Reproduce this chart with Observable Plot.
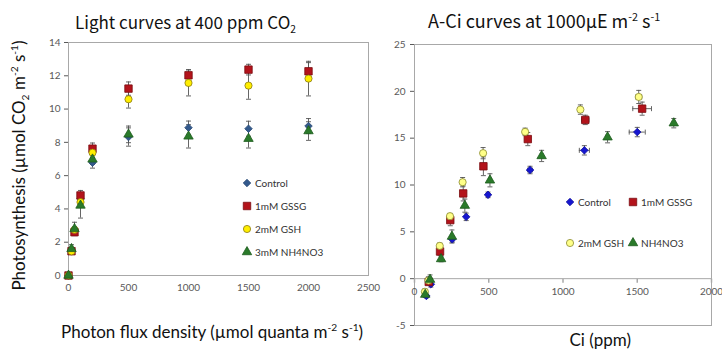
<!DOCTYPE html>
<html><head><meta charset="utf-8">
<script src="https://cdn.jsdelivr.net/npm/d3@7"></script>
<script src="https://cdn.jsdelivr.net/npm/@observablehq/plot@0.6"></script>
<style>
body{margin:0;background:#fff;}
#wrap{position:relative;width:722px;height:350px;overflow:hidden;font-family:Lato,sans-serif;background:#fff;}
.abs{position:absolute;}
.title{font-family:"Noto Sans CJK JP","Noto Sans",sans-serif;color:#111;white-space:nowrap;line-height:1;}
.axl{font-family:Lato,sans-serif;font-size:17px;color:#111;white-space:nowrap;line-height:1;}
.leg{font-family:Lato,sans-serif;font-size:10px;color:#333;display:flex;align-items:center;white-space:nowrap;line-height:1;}
.leg svg{margin-right:3px;overflow:visible;}
sub,sup{font-size:0.6em;line-height:0;}
</style></head><body><div id="wrap"></div>
<script>
// ---------- Light curves (left) ----------
const lightPFD = [0, 25, 50, 100, 200, 500, 1000, 1500, 2000];
const lightControl = [0, 1.5, 2.7, 4.6, 6.78, 8.32, 8.88, 8.82, 8.98];
const lightControlErr = [0, 0.1, 0.15, 0.2, 0.33, 0.55, 0.4, 0.45, 0.45];
const lightGSSG = [0, 1.46, 2.6, 4.81, 7.62, 11.23, 12.03, 12.37, 12.27];
const lightGSSGErr = [0, 0.1, 0.2, 0.3, 0.34, 0.4, 0.34, 0.32, 0.52];
const lightGSH = [0, 1.45, 2.75, 4.41, 7.38, 10.59, 11.57, 11.41, 11.83];
const lightGSHErr = [0, 0.1, 0.15, 0.3, 0.3, 0.53, 0.78, 0.82, 1.04];
const lightNH4 = [0, 1.6, 2.8, 4.21, 6.98, 8.48, 8.36, 8.22, 8.68];
const lightNH4Err = [0, 0.25, 0.4, 0.76, 0.3, 0.5, 0.7, 0.56, 0.56];
const lightXTicks = [0, 500, 1000, 1500, 2000, 2500];
const lightYTicks = [0, 2, 4, 6, 8, 10, 12, 14];

// ---------- A-Ci curves (right) ----------
const ciControl = [80, 110, 254, 348, 495, 778, 1144, 1500];
const aControl = [-1.85, -0.6, 4.2, 6.6, 8.95, 11.6, 13.7, 15.65];
const ciControlErr = [5, 5, 8, 8, 10, 15, 34, 54];
const aControlErr = [0.2, 0.3, 0.3, 0.4, 0.3, 0.4, 0.5, 0.5];
const ciGSSG = [96, 172, 241, 328, 464, 763, 1150, 1533];
const aGSSG = [-0.35, 2.9, 6.25, 9.1, 12.0, 14.9, 16.95, 18.15];
const ciGSSGErr = [5, 5, 8, 8, 10, 15, 25, 63];
const aGSSGErr = [0.3, 0.4, 0.6, 0.8, 1.0, 0.7, 0.5, 0.7];
const ciGSH = [70, 94, 170, 239, 324, 462, 745, 1117, 1510];
const aGSH = [-1.4, -0.2, 3.5, 6.67, 10.3, 13.4, 15.67, 18.05, 19.4];
const ciGSHErr = [4, 5, 5, 6, 6, 8, 10, 12, 20];
const aGSHErr = [0.3, 0.4, 0.3, 0.3, 0.5, 0.6, 0.4, 0.5, 0.7];
const ciNH4 = [72, 105, 179, 252, 339, 508, 856, 1300, 1746];
const aNH4 = [-1.7, -0.1, 2.1, 4.5, 7.8, 10.5, 13.1, 15.1, 16.6];
const ciNH4Err = [4, 5, 6, 6, 8, 8, 10, 12, 10];
const aNH4Err = [0.3, 0.5, 0.3, 0.7, 0.7, 0.7, 0.6, 0.6, 0.5];
const ciXTicks = [0, 500, 1000, 1500, 2000];
const ciYTicks = [-5, 0, 5, 10, 15, 20, 25];

const seriesNames = ["Control", "1mM GSSG", "2mM GSH", "3mM NH4NO3"];
const seriesNamesCi = ["Control", "1mM GSSG", "2mM GSH", "NH4NO3"];

// styles
const leftStyle = [
  {symbol: "diamond2", fill: "#33598c", stroke: "#2a4a75", r: 3.4},
  {symbol: "square", fill: "#b3131b", stroke: "#7a0c10", r: 4.2},
  {symbol: "circle", fill: "#ffee00", stroke: "#8a7a10", r: 3.6},
  {symbol: "triangle", fill: "#2a7a2a", stroke: "#1d5c1d", r: 3.5}
];
const rightStyle = [
  {symbol: "diamond2", fill: "#1515d0", stroke: "#10109a", r: 3.4},
  {symbol: "square", fill: "#b3131b", stroke: "#7a0c10", r: 4.2},
  {symbol: "circle", fill: "#ffff88", stroke: "#8a8a30", r: 3.6},
  {symbol: "triangle", fill: "#2a7a2a", stroke: "#1d5c1d", r: 3.5}
];

const lightSeries = [
  lightPFD.map((x, i) => ({x, y: lightControl[i], e: lightControlErr[i]})),
  lightPFD.map((x, i) => ({x, y: lightGSSG[i], e: lightGSSGErr[i]})),
  lightPFD.map((x, i) => ({x, y: lightGSH[i], e: lightGSHErr[i]})),
  lightPFD.map((x, i) => ({x, y: lightNH4[i], e: lightNH4Err[i]}))
];
const ciSeries = [
  ciControl.map((x, i) => ({x, y: aControl[i], ex: ciControlErr[i], ey: aControlErr[i]})),
  ciGSSG.map((x, i) => ({x, y: aGSSG[i], ex: ciGSSGErr[i], ey: aGSSGErr[i]})),
  ciGSH.map((x, i) => ({x, y: aGSH[i], ex: ciGSHErr[i], ey: aGSHErr[i]})),
  ciNH4.map((x, i) => ({x, y: aNH4[i], ex: ciNH4Err[i], ey: aNH4Err[i]}))
];

const capH = {draw(ctx) { ctx.moveTo(-2.5, 0); ctx.lineTo(2.5, 0); }};
const capV = {draw(ctx) { ctx.moveTo(0, -2.5); ctx.lineTo(0, 2.5); }};
const tickDown = {draw(ctx) { ctx.moveTo(0, 0); ctx.lineTo(0, 4); }};
const errColor = "#555";

function errMarksY(data) {
  const d2 = data.filter(d => d.e > 0);
  return [
    Plot.ruleX(d2, {x: "x", y1: d => d.y - d.e, y2: d => d.y + d.e, stroke: errColor, strokeWidth: 0.9}),
    Plot.dot(d2, {x: "x", y: d => d.y - d.e, symbol: capH, stroke: errColor, fill: "none", strokeWidth: 0.9}),
    Plot.dot(d2, {x: "x", y: d => d.y + d.e, symbol: capH, stroke: errColor, fill: "none", strokeWidth: 0.9})
  ];
}
function errMarksXY(data) {
  return [
    Plot.ruleX(data, {x: "x", y1: d => d.y - d.ey, y2: d => d.y + d.ey, stroke: errColor, strokeWidth: 0.9}),
    Plot.dot(data, {x: "x", y: d => d.y - d.ey, symbol: capH, stroke: errColor, fill: "none", strokeWidth: 0.9}),
    Plot.dot(data, {x: "x", y: d => d.y + d.ey, symbol: capH, stroke: errColor, fill: "none", strokeWidth: 0.9}),
    Plot.ruleY(data, {y: "y", x1: d => d.x - d.ex, x2: d => d.x + d.ex, stroke: errColor, strokeWidth: 0.9}),
    Plot.dot(data, {y: "y", x: d => d.x - d.ex, symbol: capV, stroke: errColor, fill: "none", strokeWidth: 0.9}),
    Plot.dot(data, {y: "y", x: d => d.x + d.ex, symbol: capV, stroke: errColor, fill: "none", strokeWidth: 0.9})
  ];
}

const left = Plot.plot({
  width: 382, height: 300,
  marginLeft: 68, marginRight: 14, marginTop: 42, marginBottom: 25,
  style: {fontFamily: "Lato, sans-serif", fontSize: "10px", color: "#595959", background: "transparent"},
  x: {domain: [0, 2500], ticks: lightXTicks, tickFormat: d => String(d), tickSize: 0, tickPadding: 8, label: null},
  y: {domain: [0, 14], ticks: lightYTicks, tickFormat: d => String(d), tickSize: 4, tickPadding: 4, label: null},
  marks: [
    Plot.frame({stroke: "#a8a8a8"}),
    ...lightSeries.flatMap(errMarksY),
    ...lightSeries.map((data, i) => Plot.dot(data, {x: "x", y: "y", ...leftStyle[i], strokeWidth: 0.8}))
  ]
});

const right = Plot.plot({
  width: 352, height: 340,
  marginLeft: 44, marginRight: 11, marginTop: 44, marginBottom: 15,
  style: {fontFamily: "Lato, sans-serif", fontSize: "10px", color: "#595959", background: "transparent"},
  x: {domain: [0, 2000], axis: null},
  y: {domain: [-5, 25], ticks: ciYTicks, tickFormat: d => String(d), tickSize: 4, tickPadding: 5, label: null},
  marks: [
    Plot.frame({stroke: "#a8a8a8"}),
    Plot.ruleY([0], {stroke: "#a8a8a8"}),
    Plot.dot(ciXTicks, {x: d => d, y: () => 0, symbol: tickDown, stroke: "#a8a8a8", fill: "none"}),
    Plot.text(ciXTicks, {x: d => d, y: () => 0, text: d => String(d), dy: 13, fill: "#595959", fontSize: 10}),
    ...ciSeries.flatMap(errMarksXY),
    ...ciSeries.map((data, i) => Plot.dot(data, {x: "x", y: "y", ...rightStyle[i], strokeWidth: 0.8}))
  ]
});

const wrap = document.getElementById("wrap");
function place(el, x, y) { el.classList.add("abs"); el.style.left = x + "px"; el.style.top = y + "px"; wrap.appendChild(el); return el; }
place(left, 0, 0);
place(right, 370, 0);

function html(tag, cls, inner) { const e = document.createElement(tag); e.className = cls; e.innerHTML = inner; return e; }

const t1 = place(html("div", "title", "Light curves at 400 ppm CO<sub>2</sub>"), 75, 13);
t1.style.fontSize = "17px";
const t2 = place(html("div", "title", "A-Ci curves at 1000µE m<sup>-2</sup> s<sup>-1</sup>"), 428, 11);
t2.style.fontSize = "18px";

const yl = html("div", "axl", "Photosynthesis (µmol CO<sub>2</sub> m<sup>-2</sup> s<sup>-1</sup>)");
place(yl, 0, 0);
yl.style.left = (18 - yl.offsetWidth / 2) + "px";
yl.style.top = (165 - yl.offsetHeight / 2) + "px";
yl.style.transform = "rotate(-90deg)";

const xl = html("div", "axl", "Photon flux density (µmol quanta m<sup>-2</sup> s<sup>-1</sup>)");
place(xl, 0, 0);
xl.style.left = (212 - xl.offsetWidth / 2) + "px";
xl.style.top = (331 - xl.offsetHeight / 2) + "px";

const cl = html("div", "axl", "Ci (ppm)");
place(cl, 0, 0);
cl.style.left = (600 - cl.offsetWidth / 2) + "px";
cl.style.top = (339 - cl.offsetHeight / 2) + "px";

// legends
function legendItem(style, label) {
  const type = {diamond2: d3.symbolDiamond2, square: d3.symbolSquare, circle: d3.symbolCircle, triangle: d3.symbolTriangle}[style.symbol];
  const size = Math.PI * style.r * style.r;
  const path = d3.symbol(type, size)();
  return html("div", "leg",
    `<svg width="10" height="10" viewBox="-5 -5 10 10"><path d="${path}" fill="${style.fill}" stroke="${style.stroke}" stroke-width="0.8"/></svg><span>${label}</span>`);
}
const leftLegendY = [184, 207, 230, 253];
seriesNames.forEach((n, i) => place(legendItem(leftStyle[i], n), 242, leftLegendY[i] - 6));
const rightLegendPos = [[565, 203], [628, 203], [565, 244], [628, 244]];
seriesNamesCi.forEach((n, i) => place(legendItem(rightStyle[i], n), rightLegendPos[i][0], rightLegendPos[i][1] - 6));
</script></body></html>
